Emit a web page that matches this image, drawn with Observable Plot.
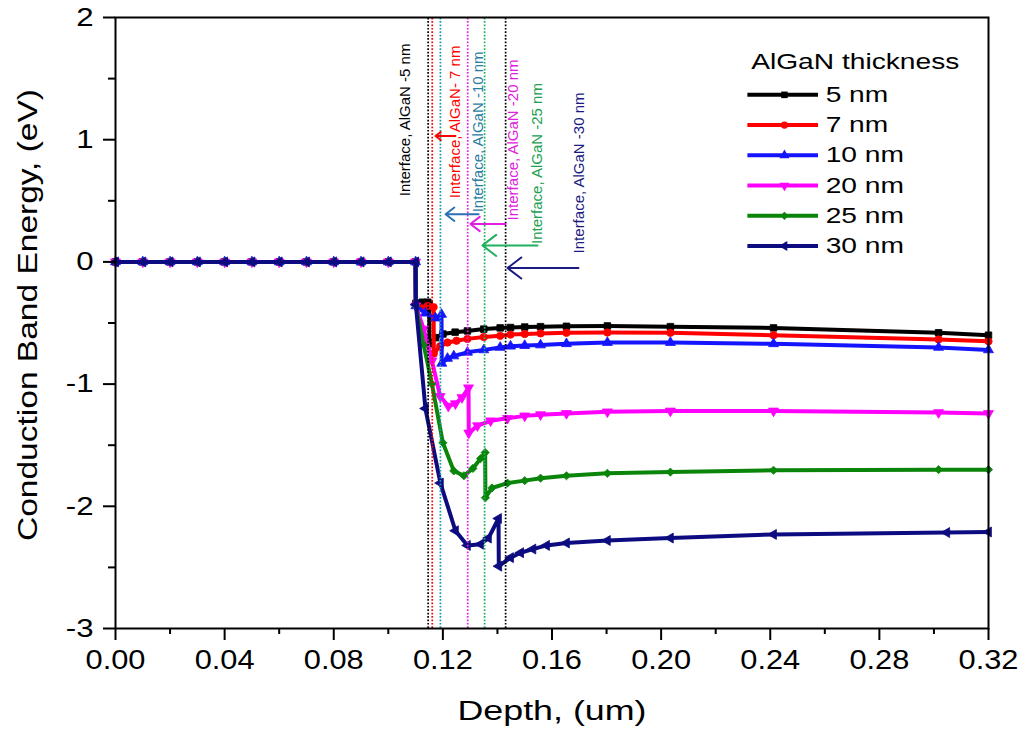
<!DOCTYPE html>
<html><head><meta charset="utf-8">
<script src="https://cdn.jsdelivr.net/npm/d3@7"></script>
<script src="https://cdn.jsdelivr.net/npm/@observablehq/plot@0.6"></script>
<style>body{margin:0;background:#fff;} #chart{width:1026px;height:729px;}</style>
</head><body><div id="chart"></div>
<script>
// ---------- data ----------
const thicknessLabels = ["5 nm", "7 nm", "10 nm", "20 nm", "25 nm", "30 nm"];
const legendTitle = "AlGaN thickness";
const xTitle = "Depth, (um)";
const yTitle = "Conduction Band Energy, (eV)";
const depthFlat  = [0, 0.01, 0.02, 0.03, 0.04, 0.05, 0.06, 0.07, 0.08, 0.09, 0.10, 0.11];
const energyFlat = [0, 0, 0, 0, 0, 0, 0, 0, 0, 0, 0, 0];

const depth5   = [0.1101, 0.1125, 0.1144, 0.1150, 0.1151, 0.1173, 0.1200, 0.1245, 0.1290, 0.1350, 0.1410, 0.1448, 0.1500, 0.1558, 0.1653, 0.1803, 0.2034, 0.2412, 0.3017, 0.3200];
const energy5  = [-0.34, -0.33, -0.33, -0.34, -0.67, -0.62, -0.59, -0.575, -0.565, -0.55, -0.54, -0.537, -0.533, -0.53, -0.527, -0.524, -0.53, -0.54, -0.58, -0.60];
const depth7   = [0.1101, 0.1125, 0.1144, 0.1166, 0.1167, 0.1190, 0.1217, 0.1250, 0.1290, 0.1350, 0.1410, 0.1448, 0.1500, 0.1558, 0.1653, 0.1803, 0.2034, 0.2412, 0.3017, 0.3200];
const energy7  = [-0.35, -0.38, -0.36, -0.37, -0.75, -0.69, -0.66, -0.645, -0.63, -0.615, -0.605, -0.595, -0.59, -0.585, -0.58, -0.578, -0.58, -0.60, -0.635, -0.65];
const depth10  = [0.1101, 0.1136, 0.1173, 0.1195, 0.1196, 0.1217, 0.1240, 0.1290, 0.1350, 0.1410, 0.1448, 0.1500, 0.1558, 0.1653, 0.1803, 0.2034, 0.2412, 0.3017, 0.3200];
const energy10 = [-0.36, -0.42, -0.46, -0.43, -0.83, -0.79, -0.77, -0.74, -0.72, -0.70, -0.69, -0.685, -0.68, -0.67, -0.66, -0.66, -0.67, -0.70, -0.72];
const depth20  = [0.1101, 0.1130, 0.1160, 0.1190, 0.1220, 0.1246, 0.1270, 0.1294, 0.1295, 0.1327, 0.1375, 0.1437, 0.1500, 0.1558, 0.1653, 0.1803, 0.2034, 0.2412, 0.3017, 0.3200];
const energy20 = [-0.36, -0.55, -0.81, -1.10, -1.18, -1.16, -1.11, -1.03, -1.40, -1.34, -1.30, -1.28, -1.26, -1.25, -1.24, -1.227, -1.22, -1.22, -1.233, -1.24];
const depth25  = [0.1101, 0.1130, 0.1160, 0.1200, 0.1240, 0.1277, 0.1310, 0.1338, 0.1355, 0.1356, 0.1380, 0.1437, 0.1500, 0.1558, 0.1653, 0.1803, 0.2034, 0.2412, 0.3017, 0.3200];
const energy25 = [-0.36, -0.68, -1.00, -1.48, -1.71, -1.75, -1.69, -1.61, -1.56, -1.93, -1.85, -1.81, -1.79, -1.77, -1.75, -1.73, -1.72, -1.705, -1.70, -1.70];
const depth30  = [0.1101, 0.1136, 0.1191, 0.1246, 0.1290, 0.1338, 0.1367, 0.1404, 0.1405, 0.1448, 0.1485, 0.1530, 0.1580, 0.1653, 0.1803, 0.2034, 0.2412, 0.3047, 0.3200];
const energy30 = [-0.35, -1.20, -1.81, -2.20, -2.32, -2.31, -2.26, -2.10, -2.49, -2.42, -2.38, -2.35, -2.32, -2.30, -2.28, -2.26, -2.23, -2.215, -2.21];

const interfaceDepth = [0.1146, 0.1161, 0.1191, 0.1291, 0.1353, 0.1430];
const annotationTexts = ["Interface, AlGaN -5 nm", "Interface, AlGaN- 7 nm", "Interface, AlGaN -10 nm", "Interface, AlGaN -20 nm", "Interface, AlGaN -25 nm", "Interface, AlGaN -30 nm"];
const annotationX = [0.1063, 0.1246, 0.1331, 0.1459, 0.1547, 0.1701];
const annotationY = [1.162, 1.146, 1.064, 0.998, 0.805, 0.728];
const arrowTailX = [0.1246, 0.1331, 0.1430, 0.1547, 0.1697];
const arrowTipX  = [0.1173, 0.1210, 0.1301, 0.1345, 0.1437];
const arrowY     = [1.03, 0.39, 0.31, 0.135, -0.05];

const xMajorTicks = [0, 0.04, 0.08, 0.12, 0.16, 0.20, 0.24, 0.28, 0.32];
const xMinorTicks = [0.02, 0.06, 0.10, 0.14, 0.18, 0.22, 0.26, 0.30];
const yMajorTicks = [-3, -2, -1, 0, 1, 2];
const yMinorTicks = [-2.5, -1.5, -0.5, 0.5, 1.5];

// ---------- styles ----------
const seriesColors = ["#000000", "#ff0000", "#1414ff", "#ff00ff", "#0a850a", "#0c0c80"];
const interfaceColors = ["#000000", "#ff0000", "#1a9aa6", "#e020e0", "#20b060", "#000000"];
const annotationColors = ["#000000", "#ff0000", "#2a7ca0", "#e020e0", "#20a050", "#1a1a80"];
const arrowColors = ["#ff0000", "#2a72b5", "#e020e0", "#20b060", "#1a1a80"];

const triangleDown = {draw(c, size) {const y = -Math.sqrt(size / (Math.sqrt(3) * 3)); const s = Math.sqrt(3);
  c.moveTo(0, -2 * y); c.lineTo(-s * y, y); c.lineTo(s * y, y); c.closePath();}};
const triangleLeft = {draw(c, size) {const y = -Math.sqrt(size / (Math.sqrt(3) * 3)); const s = Math.sqrt(3);
  c.moveTo(2 * y, 0); c.lineTo(-y, -s * y); c.lineTo(-y, s * y); c.closePath();}};
const seriesSymbols = ["square", "circle", "triangle", triangleDown, "diamond2", triangleLeft];

const depthSets = [depth5, depth7, depth10, depth20, depth25, depth30];
const energySets = [energy5, energy7, energy10, energy20, energy25, energy30];
const series = thicknessLabels.map((label, i) => {
  const xs = depthFlat.concat(depthSets[i]);
  const ys = energyFlat.concat(energySets[i]);
  return xs.map((x, j) => ({label, x, y: ys[j]}));
});

// ---------- marks ----------
const marks = [];
series.forEach((rows, i) => {
  marks.push(Plot.line(rows, {x: "x", y: "y", stroke: seriesColors[i], strokeWidth: 4}));
  marks.push(Plot.dot(rows, {x: "x", y: "y", symbol: seriesSymbols[i], fill: seriesColors[i], stroke: seriesColors[i], strokeWidth: 0.8, r: 3.7}));
});
interfaceDepth.forEach((d, i) => {
  marks.push(Plot.ruleX([d], {x: (v) => v, y1: -3, y2: 2, stroke: interfaceColors[i], strokeWidth: 1.7, strokeDasharray: "1.7,1.7"}));
});
annotationTexts.forEach((t, i) => {
  marks.push(Plot.text([t], {x: annotationX[i], y: annotationY[i], text: (d) => d, rotate: -90, fill: annotationColors[i], fontSize: 15}));
});
arrowTipX.forEach((tip, i) => {
  marks.push(Plot.arrow([i], {x1: arrowTailX[i], y1: arrowY[i], x2: tip, y2: arrowY[i], stroke: arrowColors[i], strokeWidth: 2, headLength: 13, headAngle: 75}));
});

// legend (layout in data units)
const legendLineX = [0.2318, 0.2577], legendMarkX = 0.2452, legendTextX = 0.2603;
const legendTop = 1.367, legendStep = 0.2475, legendTitleY = 1.635;
marks.push(Plot.text([legendTitle], {x: 0.2330, y: legendTitleY, text: (d) => d, textAnchor: "start", fontSize: 22, fill: "black"}));
thicknessLabels.forEach((label, i) => {
  const row = [{label, y: legendTop - i * legendStep}];
  marks.push(Plot.ruleY(row, {y: "y", x1: legendLineX[0], x2: legendLineX[1], stroke: seriesColors[i], strokeWidth: 4}));
  marks.push(Plot.dot(row, {x: legendMarkX, y: "y", symbol: seriesSymbols[i], fill: seriesColors[i], r: 3.7}));
  marks.push(Plot.text(row, {x: legendTextX, y: "y", text: "label", textAnchor: "start", fontSize: 22, fill: "black"}));
});

// axes
marks.push(Plot.axisX({ticks: xMajorTicks, tickSize: 12, tickPadding: 9, tickFormat: d3.format(".2f"), label: null, fontSize: 28, strokeWidth: 2}));
marks.push(Plot.axisX({ticks: xMinorTicks, tickSize: 6, tickFormat: () => "", label: null, strokeWidth: 2}));
marks.push(Plot.axisY({ticks: yMajorTicks, tickSize: 12, tickPadding: 10, tickFormat: (d) => String(d), label: null, fontSize: 26, strokeWidth: 2}));
marks.push(Plot.axisY({ticks: yMinorTicks, tickSize: 7, tickFormat: () => "", label: null, strokeWidth: 2}));
marks.push(Plot.frame({stroke: "black", strokeWidth: 2}));
marks.push(Plot.text([xTitle], {frameAnchor: "bottom", text: (d) => d, dy: 83, textAnchor: "middle", lineAnchor: "middle", fontSize: 27, fill: "black"}));
marks.push(Plot.text([yTitle], {frameAnchor: "left", text: (d) => d, dx: -87, dy: -8, rotate: -90, textAnchor: "middle", lineAnchor: "middle", fontSize: 28, fill: "black"}));

const chart = Plot.plot({
  width: 1026, height: 729,
  marginLeft: 115, marginRight: 38, marginTop: 17, marginBottom: 101,
  x: {domain: [0, 0.32]},
  y: {domain: [-3, 2]},
  style: {fontFamily: "'Liberation Sans', Arial, sans-serif", color: "black", background: "white"},
  marks
});
document.getElementById("chart").appendChild(chart);

// widen lettering to mimic the reference's stretched text
function setLength(t, len) {
  t.setAttribute("textLength", len);
  t.setAttribute("lengthAdjust", "spacingAndGlyphs");
}
chart.querySelectorAll('g[aria-label="x-axis tick label"] text').forEach((t) => { const w = t.getComputedTextLength(); if (w) setLength(t, w * 1.1); });
chart.querySelectorAll('g[aria-label="y-axis tick label"] text').forEach((t) => { const w = t.getComputedTextLength(); if (w) setLength(t, w * 1.2); });
const legendSet = new Set([legendTitle, ...thicknessLabels]);
chart.querySelectorAll("text").forEach((t) => {
  const s = t.textContent;
  if (legendSet.has(s)) { const w = t.getComputedTextLength(); if (w) setLength(t, w * 1.28); }
  else if (s === xTitle) setLength(t, 189);
  else if (s === yTitle) setLength(t, 452);
});
</script>
</body></html>
